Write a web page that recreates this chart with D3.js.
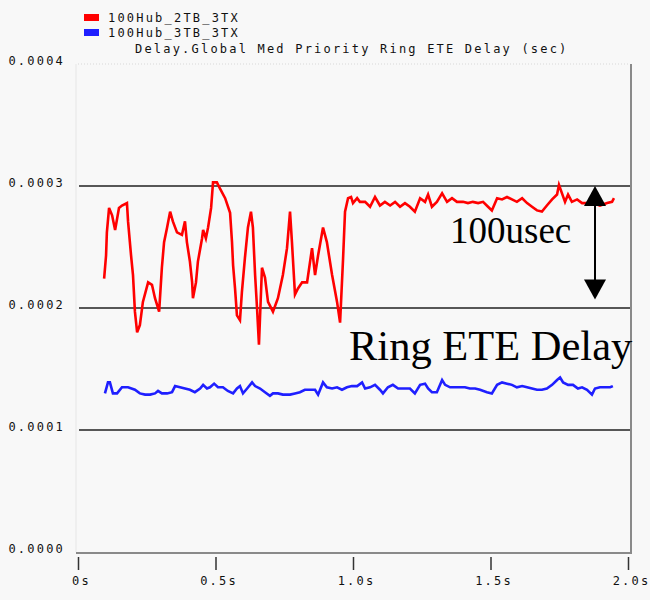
<!DOCTYPE html>
<html>
<head>
<meta charset="utf-8">
<script src="https://cdn.jsdelivr.net/npm/d3@7"></script>
<style>
  html, body { margin: 0; padding: 0; background: #f8f8f8; }
  svg { display: block; }
  .mono { font-family: "DejaVu Sans Mono", "Liberation Mono", monospace; font-size: 12px; letter-spacing: 2.2px; fill: #111; }
  .serif { font-family: "Liberation Serif", "Times New Roman", serif; fill: #000; }
</style>
</head>
<body>
<svg id="chart" width="650" height="600"></svg>
<script>
// Series names and colours
const seriesNames = ["100Hub_2TB_3TX", "100Hub_3TB_3TX"];
const seriesColors = ["#ff0000", "#1f1fff"];
const chartTitle = "Delay.Global Med Priority Ring ETE Delay (sec)";

// Axis ticks
const xTicks = [0, 0.5, 1.0, 1.5, 2.0];
const xTickLabels = ["0s", "0.5s", "1.0s", "1.5s", "2.0s"];
const yTicks = [0, 0.0001, 0.0002, 0.0003, 0.0004];
const yTickLabels = ["0.0000", "0.0001", "0.0002", "0.0003", "0.0004"];
const gridValues = [0.0001, 0.0002, 0.0003];

// 100Hub_2TB_3TX: simulation time (s) and delay (s)
const redTime = [0.095,0.102,0.105,0.113,0.124,0.135,0.149,0.160,0.178,0.182,0.193,0.200,0.207,0.215,0.225,0.236,0.255,0.269,0.280,0.295,
  0.305,0.313,0.324,0.335,0.345,0.360,0.378,0.389,0.396,0.407,0.415,0.418,0.429,0.436,0.451,0.455,0.465,0.473,0.484,0.491,
  0.505,0.516,0.535,0.553,0.560,0.564,0.571,0.578,0.589,0.596,0.607,0.618,0.629,0.636,0.644,0.651,0.658,0.669,0.680,0.691,
  0.709,0.727,0.745,0.760,0.771,0.778,0.789,0.800,0.815,0.833,0.851,0.862,0.873,0.891,0.905,0.924,0.942,0.953,0.964,0.971,
  0.982,0.993,1.000,1.015,1.025,1.044,1.062,1.080,1.098,1.116,1.135,1.153,1.171,1.189,1.207,1.225,1.244,1.262,1.273,1.287,
  1.305,1.324,1.342,1.360,1.378,1.400,1.418,1.436,1.455,1.473,1.491,1.505,1.524,1.542,1.560,1.578,1.596,1.615,1.633,1.651,
  1.669,1.687,1.705,1.724,1.742,1.749,1.760,1.771,1.782,1.796,1.815,1.833,1.851,1.873,1.898,1.924,1.942,1.949];
const redDelay = [0.000224,0.000243,0.000262,0.000282,0.000276,0.000264,0.000282,0.000284,0.000286,0.000271,0.000243,0.000227,0.000197,0.000180,0.000186,0.000205,0.000221,0.000219,0.000208,0.000197,
  0.000233,0.000254,0.000266,0.000279,0.000271,0.000262,0.000260,0.000271,0.000254,0.000238,0.000221,0.000208,0.000221,0.000238,0.000257,0.000264,0.000257,0.000266,0.000282,0.000303,
  0.000303,0.000298,0.000290,0.000278,0.000254,0.000235,0.000216,0.000194,0.000190,0.000213,0.000241,0.000266,0.000279,0.000266,0.000227,0.000200,0.000170,0.000233,0.000225,0.000205,
  0.000197,0.000208,0.000227,0.000249,0.000279,0.000254,0.000211,0.000216,0.000221,0.000221,0.000249,0.000227,0.000243,0.000266,0.000254,0.000227,0.000205,0.000188,0.000241,0.000279,
  0.000290,0.000291,0.000286,0.000290,0.000287,0.000287,0.000283,0.000291,0.000284,0.000287,0.000284,0.000287,0.000283,0.000286,0.000283,0.000279,0.000290,0.000287,0.000293,0.000283,
  0.000287,0.000294,0.000287,0.000290,0.000287,0.000287,0.000286,0.000287,0.000286,0.000287,0.000283,0.000280,0.000290,0.000289,0.000291,0.000289,0.000287,0.000290,0.000286,0.000283,
  0.000280,0.000279,0.000284,0.000289,0.000293,0.000301,0.000294,0.000287,0.000293,0.000287,0.000289,0.000286,0.000286,0.000286,0.000284,0.000286,0.000287,0.000290];

// 100Hub_3TB_3TX: simulation time (s) and delay (s)
const blueTime = [0.098,0.109,0.116,0.127,0.142,0.160,0.182,0.207,0.225,0.244,0.262,0.280,0.291,0.305,0.324,0.342,0.353,0.371,0.389,0.407,
  0.425,0.444,0.455,0.469,0.480,0.495,0.509,0.527,0.545,0.564,0.578,0.589,0.600,0.615,0.633,0.644,0.662,0.680,0.698,0.709,
  0.727,0.745,0.771,0.789,0.807,0.825,0.844,0.862,0.873,0.891,0.905,0.924,0.942,0.960,0.978,0.996,1.015,1.033,1.044,1.062,
  1.080,1.098,1.109,1.127,1.145,1.164,1.189,1.207,1.225,1.244,1.262,1.273,1.287,1.305,1.324,1.335,1.353,1.371,1.389,1.407,
  1.425,1.444,1.462,1.487,1.505,1.524,1.542,1.560,1.578,1.596,1.615,1.633,1.651,1.669,1.687,1.705,1.724,1.742,1.753,1.764,
  1.782,1.800,1.818,1.833,1.851,1.869,1.880,1.898,1.916,1.935,1.945];
const blueDelay = [0.000130,0.000139,0.000139,0.000130,0.000130,0.000135,0.000135,0.000133,0.000130,0.000129,0.000129,0.000130,0.000132,0.000130,0.000130,0.000131,0.000136,0.000135,0.000134,0.000133,
  0.000131,0.000134,0.000137,0.000134,0.000135,0.000138,0.000135,0.000135,0.000132,0.000130,0.000134,0.000136,0.000130,0.000134,0.000139,0.000136,0.000134,0.000131,0.000128,0.000130,
  0.000130,0.000129,0.000129,0.000130,0.000131,0.000133,0.000133,0.000133,0.000129,0.000139,0.000135,0.000134,0.000135,0.000133,0.000135,0.000136,0.000136,0.000139,0.000134,0.000135,
  0.000137,0.000133,0.000130,0.000135,0.000137,0.000134,0.000134,0.000134,0.000130,0.000137,0.000138,0.000134,0.000131,0.000131,0.000141,0.000137,0.000135,0.000135,0.000135,0.000135,
  0.000134,0.000134,0.000133,0.000131,0.000130,0.000137,0.000139,0.000138,0.000137,0.000135,0.000136,0.000135,0.000134,0.000133,0.000133,0.000134,0.000137,0.000141,0.000143,0.000139,
  0.000137,0.000137,0.000134,0.000135,0.000133,0.000129,0.000134,0.000135,0.000135,0.000135,0.000136];

// Annotation: 100 usec span marked with a double arrow
const spanTime = 1.88;
const spanTop = 0.0003;
const spanBottom = 0.000207;
const spanLabel = "100usec";
const noteLabel = "Ring ETE Delay";

const svg = d3.select("#chart");
const W = 650, H = 600;
svg.append("rect").attr("width", W).attr("height", H).attr("fill", "#f8f8f8");

const x = d3.scaleLinear().domain([0, 2]).range([78, 628]);
const y = d3.scaleLinear().domain([0, 0.0004]).range([552, 64]);

// Plot frame
svg.append("line").attr("x1", x(0) - 2).attr("x2", x(0) - 2).attr("y1", y(0.0004)).attr("y2", y(0))
  .attr("stroke", "#e6e6e6").attr("stroke-width", 1);
svg.append("line").attr("x1", x(0)).attr("x2", x(2) + 2).attr("y1", y(0.0004)).attr("y2", y(0.0004))
  .attr("stroke", "#d8d8d8").attr("stroke-width", 1).attr("stroke-dasharray", "1,2");
svg.append("line").attr("x1", x(2) + 3).attr("x2", x(2) + 3).attr("y1", y(0.0004)).attr("y2", y(0) + 1)
  .attr("stroke", "#8a8a8a").attr("stroke-width", 2);
svg.append("line").attr("x1", x(0) - 2).attr("x2", x(2) + 4).attr("y1", y(0) + 1).attr("y2", y(0) + 1)
  .attr("stroke", "#8a8a8a").attr("stroke-width", 2);

// Horizontal grid lines
svg.append("g").selectAll("line").data(gridValues).join("line")
  .attr("x1", x(0) + 1).attr("x2", x(2) + 2)
  .attr("y1", d => y(d)).attr("y2", d => y(d))
  .attr("stroke", "#222").attr("stroke-width", 1.5);

// Y axis labels
const yAxis = d3.axisLeft(y).tickValues(yTicks).tickSize(0).tickPadding(0)
  .tickFormat((d, i) => yTickLabels[i]);
const gy = svg.append("g").attr("transform", "translate(65,0)").call(yAxis);
gy.select(".domain").remove();
gy.selectAll("text").attr("class", "mono").attr("font-size", null).attr("font-family", null)
  .attr("dy", "0.05em").attr("fill", "#111");

// X axis ticks and labels
const xAxis = d3.axisBottom(x).tickValues(xTicks).tickSize(13).tickPadding(6)
  .tickFormat((d, i) => xTickLabels[i]);
const gx = svg.append("g").attr("transform", `translate(0,${y(0) + 5})`).call(xAxis);
gx.select(".domain").remove();
gx.selectAll(".tick line").attr("stroke", "#333").attr("stroke-width", 1.5);
gx.selectAll("text").attr("class", "mono").attr("font-size", null).attr("font-family", null)
  .attr("fill", "#111").attr("dx", "3");

// Series lines
const line = d3.line().x(d => x(d[0])).y(d => y(d[1]));
const series = [
  { t: redTime, v: redDelay, color: seriesColors[0] },
  { t: blueTime, v: blueDelay, color: seriesColors[1] }
];
svg.append("g").selectAll("path").data(series).join("path")
  .attr("d", s => line(s.t.map((t, i) => [t, s.v[i]])))
  .attr("fill", "none")
  .attr("stroke", s => s.color)
  .attr("stroke-width", 2.6)
  .attr("stroke-linejoin", "miter");

// Legend
const legend = svg.append("g").selectAll("g").data(seriesNames).join("g")
  .attr("transform", (d, i) => `translate(84,${14 + i * 15})`);
legend.append("rect").attr("width", 15).attr("height", 7)
  .attr("fill", (d, i) => seriesColors[i]);
legend.append("text").attr("class", "mono").attr("x", 24).attr("y", 8).text(d => d);

// Title
svg.append("text").attr("class", "mono").attr("x", 135).attr("y", 53).text(chartTitle);

// Double-headed arrow for the 100 usec span
const ax = x(spanTime);
const yTop = y(spanTop), yBot = y(spanBottom);
svg.append("line").attr("x1", ax).attr("x2", ax).attr("y1", yTop + 15).attr("y2", yBot - 15)
  .attr("stroke", "#000").attr("stroke-width", 2);
svg.append("path")
  .attr("d", `M${ax},${yTop} L${ax - 11},${yTop + 20} L${ax + 11},${yTop + 20} Z`)
  .attr("fill", "#000");
svg.append("path")
  .attr("d", `M${ax},${yBot} L${ax - 11},${yBot - 20} L${ax + 11},${yBot - 20} Z`)
  .attr("fill", "#000");

// Text annotations
svg.append("text").attr("class", "serif").attr("x", 450).attr("y", 243)
  .attr("font-size", 37).text(spanLabel);
svg.append("text").attr("class", "serif").attr("x", 349).attr("y", 360)
  .attr("font-size", 42.5).text(noteLabel);
</script>
</body>
</html>
